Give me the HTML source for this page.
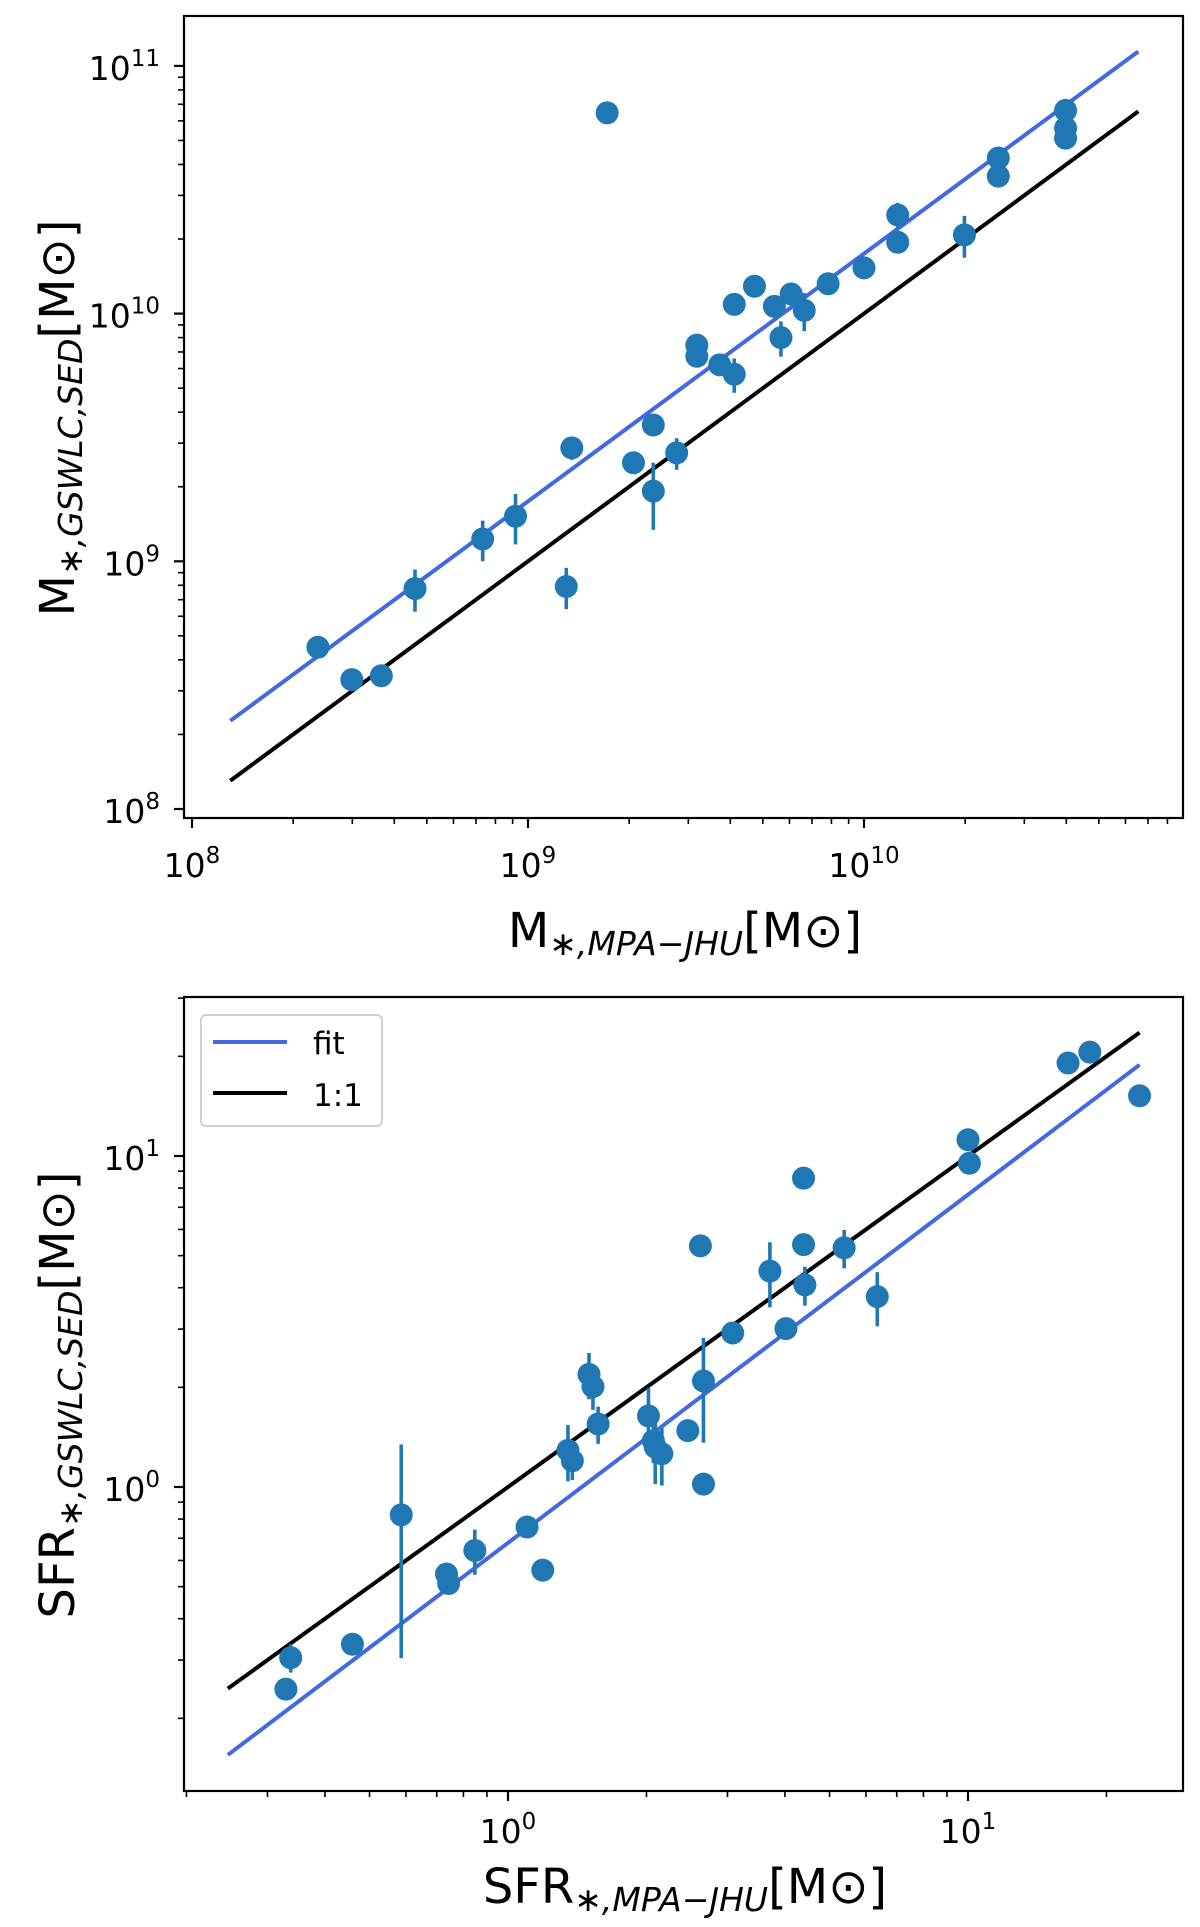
<!DOCTYPE html>
<html><head><meta charset="utf-8">
<style>
html,body{margin:0;padding:0;background:#fff;}
svg{display:block;font-family:"DejaVu Sans","Liberation Sans",sans-serif;}
</style></head>
<body>
<svg id="fig" width="1200" height="1927" viewBox="0 0 1200 1927" xmlns="http://www.w3.org/2000/svg">
<g id="top"></g>
<g id="bot"></g>
</svg>
<script>
// ---- Top panel data (stellar mass) ----
const massX = [2.37e8,2.99e8,3.66e8,4.61e8,7.33e8,9.18e8,1.30e9,1.35e9,1.72e9,2.06e9,2.36e9,2.36e9,2.77e9,3.18e9,3.18e9,3.72e9,4.11e9,4.11e9,4.72e9,5.41e9,5.66e9,6.07e9,6.64e9,7.82e9,1.0e10,1.26e10,1.26e10,1.99e10,2.51e10,2.51e10,3.98e10,3.98e10,3.98e10];
const massY = [4.50e8,3.33e8,3.45e8,7.76e8,1.23e9,1.52e9,7.91e8,2.87e9,6.46e10,2.50e9,3.55e9,1.92e9,2.74e9,7.46e9,6.73e9,6.21e9,5.69e9,1.09e10,1.29e10,1.07e10,8.0e9,1.20e10,1.03e10,1.32e10,1.53e10,2.50e10,1.94e10,2.08e10,4.25e10,3.59e10,6.61e10,5.60e10,5.11e10];
const massErr = [0.2e8,0.3e8,0.2e8,1.5e8,0.23e9,0.35e9,1.5e8,0.3e9,1e9,0.1e9,0.2e9,0.58e9,0.4e9,0.3e9,0.3e9,0.3e9,0.9e9,0.4e9,0.4e9,0.4e9,1.3e9,0.5e9,1.8e9,0.5e9,0.6e9,0.3e10,0.1e10,0.4e10,0.2e10,0.2e10,0.3e10,0.2e10,0.2e10];
const massFitRange = [1.3e8, 6.55e10];
const massFitNorm = 1.746;
const massFitSlope = 1.0;
const massXTicks = [8,9,10];
const massYTicks = [8,9,10,11];

// ---- Bottom panel data (SFR) ----
const sfrX = [0.329,0.337,0.459,0.586,0.735,0.743,0.847,1.10,1.19,1.35,1.38,1.50,1.53,1.57,2.02,2.07,2.09,2.16,2.46,2.66,2.66,2.62,3.08,3.71,4.02,4.39,4.39,4.42,5.38,6.35,10.0,10.07,16.5,18.4,23.6];
const sfrY = [0.245,0.305,0.335,0.824,0.546,0.511,0.643,0.757,0.561,1.29,1.20,2.19,2.01,1.55,1.64,1.38,1.32,1.26,1.48,2.09,1.02,5.35,2.92,4.49,3.01,8.57,5.40,4.08,5.28,3.76,11.2,9.51,19.1,20.6,15.2];
const sfrErr = [0.01,0.03,0.01,0.52,0.02,0.02,0.1,0.02,0.02,0.25,0.15,0.35,0.3,0.2,0.35,0.2,0.3,0.25,0.05,0.73,0.05,0.2,0.1,1.0,0.1,0.2,0.2,0.55,0.7,0.7,0.5,0.3,0.8,0.5,0.5];
const sfrFitRange = [0.246, 23.6];
const sfrFitNorm = 0.678;
const sfrFitSlope = 1.052;
const sfrXTicks = [0,1];
const sfrYTicks = [0,1];

const NS = "http://www.w3.org/2000/svg";
function mk(parent, tag, attrs, text){
  const e = document.createElementNS(NS, tag);
  for (const k in attrs) e.setAttribute(k, attrs[k]);
  if (text !== undefined) e.textContent = text;
  parent.appendChild(e);
  return e;
}

function panel(g, cfg){
  const L = Math.log10;
  const sx = v => cfg.x0px + (L(v) - cfg.x0log) * cfg.xdec;
  const sy = v => cfg.y0px - (L(v) - cfg.y0log) * cfg.ydec;
  const box = cfg.box;
  const cid = cfg.id + "-clip";
  const defs = mk(g, "defs", {});
  const cp = mk(defs, "clipPath", {id: cid});
  mk(cp, "rect", {x: box[0], y: box[1], width: box[2]-box[0], height: box[3]-box[1]});
  const plot = mk(g, "g", {"clip-path": "url(#" + cid + ")"});
  
  

  const drawLine = (norm, slope, color, name) => {
    const xa = cfg.fitRange[0], xb = cfg.fitRange[1];
    const ln = mk(plot, "line", {x1: sx(xa), y1: sy(norm*Math.pow(xa, slope)), x2: sx(xb), y2: sy(norm*Math.pow(xb, slope)), stroke: color, "stroke-width": 4});
    
    
  };
  drawLine(1, 1, "#000", cfg.id + "-one-to-one-line");
  drawLine(cfg.fitNorm, cfg.fitSlope, "#4169e1", cfg.id + "-fit-line");

  for (let i = 0; i < cfg.xs.length; i++){
    const x = sx(cfg.xs[i]), y = cfg.ys[i], e = cfg.err[i];
    const lo = Math.max(y - e, y*0.05);
    const eb = mk(plot, "line", {x1: x, x2: x, y1: sy(y + e), y2: sy(lo), stroke: "#1f77b4", "stroke-width": 3.6});
    
    
    const c = mk(plot, "circle", {cx: x, cy: sy(y), r: 11.5, fill: "#1f77b4"});
    
    
  }

  const fr = mk(g, "rect", {x: box[0], y: box[1], width: box[2]-box[0], height: box[3]-box[1], fill: "none", stroke: "#000", "stroke-width": 2.2});
  
  

  const xmin = cfg.x0log + (box[0]-cfg.x0px)/cfg.xdec, xmax = cfg.x0log + (box[2]-cfg.x0px)/cfg.xdec;
  for (let d = Math.floor(xmin); d <= Math.ceil(xmax); d++){
    for (let m = 1; m <= 9; m++){
      const lv = d + Math.log10(m);
      if (lv < xmin || lv > xmax) continue;
      const px = cfg.x0px + (lv - cfg.x0log)*cfg.xdec;
      mk(g, "line", {x1: px, x2: px, y1: box[3], y2: box[3] + (m===1?10:6), stroke: "#000", "stroke-width": m===1?2.2:1.6});
    }
  }
  cfg.xTicks.forEach(t => {
    const px = cfg.x0px + (t - cfg.x0log)*cfg.xdec;
    const tx = mk(g, "text", {x: px, y: cfg.xLabelY, "font-size": 33, "text-anchor": "middle"});
    
    
    mk(tx, "tspan", {}, "10");
    mk(tx, "tspan", {dy: -14, "font-size": 23}, String(t));
  });
  const ymin = cfg.y0log - (box[3]-cfg.y0px)/cfg.ydec, ymax = cfg.y0log + (cfg.y0px-box[1])/cfg.ydec;
  for (let d = Math.floor(ymin); d <= Math.ceil(ymax); d++){
    for (let m = 1; m <= 9; m++){
      const lv = d + Math.log10(m);
      if (lv < ymin || lv > ymax) continue;
      const py = cfg.y0px - (lv - cfg.y0log)*cfg.ydec;
      mk(g, "line", {x1: box[0] - (m===1?10:6), x2: box[0], y1: py, y2: py, stroke: "#000", "stroke-width": m===1?2.2:1.6});
    }
  }
  cfg.yTicks.forEach(t => {
    const py = cfg.y0px - (t - cfg.y0log)*cfg.ydec;
    const tx = mk(g, "text", {x: 160, y: py + 14, "font-size": 33, "text-anchor": "end"});
    
    
    mk(tx, "tspan", {}, "10");
    mk(tx, "tspan", {dy: -14, "font-size": 23}, String(t));
  });

  const xt = mk(g, "text", {x: 685, y: cfg.xTitleY, "font-size": 48, "text-anchor": "middle"});
  
  
  mk(xt, "tspan", {}, cfg.xPre);
  mk(xt, "tspan", {"font-size": 33, dy: 8, "font-style": "italic"}, "∗,MPA−JHU");
  mk(xt, "tspan", {dy: -8}, "[M⊙]");
  const yt = mk(g, "text", {x: 0, y: 0, "font-size": 48, "text-anchor": "middle", transform: "translate(74," + cfg.yTitleC + ") rotate(-90)"});
  
  
  mk(yt, "tspan", {}, cfg.yPre);
  mk(yt, "tspan", {"font-size": 33, dy: 8, "font-style": "italic"}, "∗,GSWLC,SED");
  mk(yt, "tspan", {dy: -8}, "[M⊙]");
}

panel(document.getElementById("top"), {
  id: "mass", box: [184, 16, 1183, 818],
  x0px: 192, x0log: 8, xdec: 336,
  y0px: 809, y0log: 8, ydec: 247.7,
  xs: massX, ys: massY, err: massErr,
  fitRange: massFitRange, fitNorm: massFitNorm, fitSlope: massFitSlope,
  xTicks: massXTicks, yTicks: massYTicks,
  xLabelY: 877, xTitleY: 947, yTitleC: 418, xPre: "M", yPre: "M"
});
panel(document.getElementById("bot"), {
  id: "sfr", box: [184, 997, 1183, 1791],
  x0px: 508, x0log: 0, xdec: 460,
  y0px: 1487, y0log: 0, ydec: 331,
  xs: sfrX, ys: sfrY, err: sfrErr,
  fitRange: sfrFitRange, fitNorm: sfrFitNorm, fitSlope: sfrFitSlope,
  xTicks: sfrXTicks, yTicks: sfrYTicks,
  xLabelY: 1843, xTitleY: 1903, yTitleC: 1395, xPre: "SFR", yPre: "SFR"
});

const bot = document.getElementById("bot");
const lg = mk(bot, "g", {});


mk(lg, "rect", {x: 201, y: 1015, width: 181, height: 111, rx: 5, fill: "#fff", "fill-opacity": 0.8, stroke: "#d0d0d0", "stroke-width": 2});
const l1 = mk(lg, "g", {});


mk(l1, "line", {x1: 213, x2: 287, y1: 1042, y2: 1042, stroke: "#4169e1", "stroke-width": 4});
mk(l1, "text", {x: 313, y: 1054, "font-size": 31}, "fit");
const l2 = mk(lg, "g", {});


mk(l2, "line", {x1: 213, x2: 287, y1: 1093, y2: 1093, stroke: "#000", "stroke-width": 4});
mk(l2, "text", {x: 313, y: 1106, "font-size": 31}, "1:1");
</script>
</body></html>
